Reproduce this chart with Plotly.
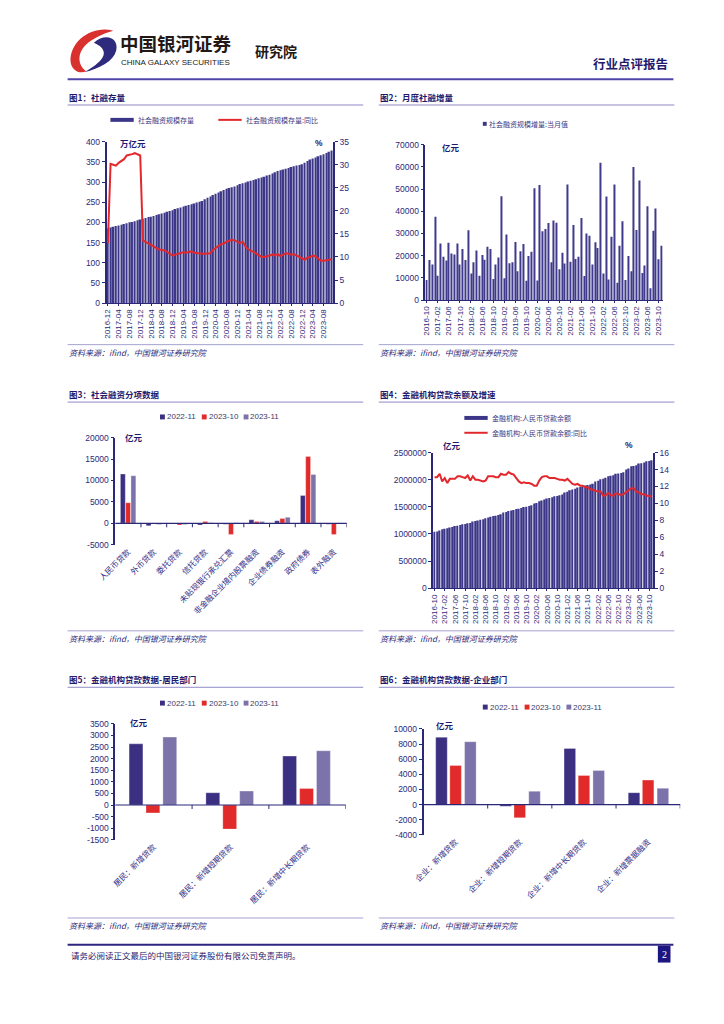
import plotly.graph_objects as go
import pandas as pd

W, H = 724, 1024


def fx(x):
    return x / W


def fy(y):
    return 1 - y / H


NAVY = "#2b2878"
TXT = "#2d2a7a"
BAR = "#3c3688"
RED = "#e2282c"
C1, C2, C3 = "#3a2f80", "#e12b2b", "#7b73aa"
CJK = "Noto Sans CJK SC"
NUM = "Liberation Sans"

# ---------------- data ----------------
# Fig 1: social financing stock (万亿元) and yoy (%), 2016-12 .. 2023-11
months1 = list(pd.period_range("2016-12", "2023-11", freq="M").strftime("%Y-%m"))
sf_stock = [185, 187, 189, 191, 192, 194, 196, 198, 200, 201, 203, 205,
            207, 209, 211, 213, 214, 216, 218, 220, 222, 224, 226, 228,
            230, 233, 235, 237, 239, 241, 243, 245, 247, 249, 251, 253,
            257, 261, 264, 268, 271, 274, 277, 280, 283, 285, 287, 289,
            292, 295, 297, 299, 301, 303, 305, 307, 309, 311, 313, 316,
            318, 321, 324, 327, 329, 331, 333, 335, 337, 339, 341, 342,
            344, 348, 352, 356, 358, 361, 364, 366, 369, 372, 375, 378]
sf_yoy = [13.0,
          30.2, 30.0, 29.8, 30.4, 30.8, 31.2, 32.0, 32.1, 32.3, 32.5, 32.3, 32.0,
          13.6, 13.3, 12.9, 12.6, 12.3, 11.9, 11.6, 11.5, 11.4, 11.1, 10.7, 10.3,
          10.5, 10.7, 10.9, 11.0, 10.9, 11.1, 11.2, 10.9, 10.8, 10.7, 10.7, 10.7,
          10.7, 10.8, 11.5, 12.0, 12.5, 12.8, 12.9, 13.3, 13.5, 13.7, 13.6, 13.3,
          13.0, 13.3, 12.3, 11.7, 11.3, 11.1, 10.7, 10.3, 10.0, 10.0, 10.1, 10.3,
          10.5, 10.4, 10.6, 10.2, 10.5, 10.8, 10.7, 10.5, 10.6, 10.3, 10.0, 9.6,
          9.4, 9.9, 10.0, 10.3, 10.1, 9.6, 9.2, 9.2, 9.3, 9.3, 9.5, 9.8]
ticks1 = months1[::4]

# Fig 2: monthly social financing increment (亿元), 2016-10 .. 2023-11
months2 = list(pd.period_range("2016-10", "2023-11", freq="M").strftime("%Y-%m"))
sf_flow = [9000, 18000, 16000,
           37500, 11000, 25500, 19500, 17800, 25800, 21000, 20500, 25500, 16000, 23000, 18000,
           31500, 12000, 17000, 22300, 11000, 20300, 18200, 24000, 23000, 9500, 16000, 19200,
           46800, 9800, 29500, 16600, 17000, 26200, 13000, 22000, 25300, 8700, 19800, 21800,
           50400, 8800, 51800, 31000, 32000, 34700, 17000, 35800, 34800, 13900, 21300, 16500,
           52000, 17300, 33800, 18500, 19500, 37000, 10800, 30000, 29000, 16000, 26000, 23500,
           61800, 12000, 46600, 9300, 28500, 52000, 7800, 24500, 35500, 9000, 19800, 13000,
           59900, 31600, 53800, 12200, 15600, 42200, 5300, 31200, 41200, 18400, 24500]
ticks2 = months2[::4]

# Fig 3: social financing components (亿元)
cats3 = ["人民币贷款", "外币贷款", "委托贷款", "信托贷款", "未贴现银行承兑汇票",
         "非金融企业境内股票融资", "企业债券融资", "政府债券", "表外融资"]
s3_2211 = [11500, -600, -100, -400, -200, 800, 600, 6500, -200]
s3_2310 = [4800, -100, -400, 400, -2600, 400, 1100, 15600, -2600]
s3_2311 = [11100, -300, -300, 100, 100, 400, 1400, 11400, 0]
yt3 = [-5000, 0, 5000, 10000, 15000, 20000]

# Fig 4: RMB loan balance (亿元) and yoy (%), 2016-10 .. 2023-11
loan_bal = [1040000, 1048000, 1066000,
            1086000, 1097000, 1108000, 1119000, 1130000, 1145000, 1154000, 1166000, 1179000, 1185000, 1197000, 1201000,
            1230000, 1238000, 1250000, 1261000, 1273000, 1291000, 1304000, 1317000, 1331000, 1338000, 1350000, 1363000,
            1396000, 1405000, 1422000, 1432000, 1444000, 1461000, 1467000, 1479000, 1496000, 1502000, 1516000, 1531000,
            1564000, 1573000, 1602000, 1619000, 1634000, 1652000, 1662000, 1676000, 1695000, 1702000, 1716000, 1727000,
            1763000, 1777000, 1804000, 1819000, 1834000, 1855000, 1864000, 1876000, 1893000, 1901000, 1914000, 1927000,
            1967000, 1979000, 2010000, 2017000, 2036000, 2064000, 2071000, 2083000, 2108000, 2114000, 2126000, 2140000,
            2190000, 2208000, 2247000, 2254000, 2268000, 2299000, 2302000, 2316000, 2339000, 2346000, 2357000]
loan_yoy = [13.1, 13.1, 13.5,
            12.6, 13.0, 12.4, 12.9, 12.9, 12.9, 13.2, 13.2, 13.1, 13.0, 13.3, 12.7,
            13.2, 12.8, 12.8, 12.7, 12.6, 12.7, 13.2, 13.2, 13.2, 13.1, 13.1, 13.5,
            13.4, 13.4, 13.7, 13.5, 13.4, 13.0, 12.6, 12.4, 12.5, 12.4, 12.4, 12.3,
            12.1, 12.1, 12.7, 13.1, 13.2, 13.2, 13.0, 13.0, 13.0, 12.9, 12.8, 12.8,
            12.7, 12.9, 12.6, 12.3, 12.2, 12.3, 12.1, 12.1, 11.9, 11.9, 11.7, 11.6,
            11.5, 11.4, 11.4, 10.9, 11.0, 11.2, 11.0, 10.9, 11.2, 11.1, 11.0, 11.1,
            11.3, 11.6, 11.8, 11.8, 11.4, 11.3, 11.1, 11.1, 10.9, 10.9, 10.8]

# Fig 5: household loans (亿元)
cats5 = ["居民：新增贷款", "居民：新增短期贷款", "居民：新增中长期贷款"]
s5_2211 = [2640, 530, 2110]
s5_2310 = [-340, -1040, 710]
s5_2311 = [2930, 600, 2340]
yt5 = [-1500, -1000, -500, 0, 500, 1000, 1500, 2000, 2500, 3000, 3500]

# Fig 6: corporate loans (亿元)
cats6 = ["企业：新增贷款", "企业：新增短期贷款", "企业：新增中长期贷款", "企业：新增票据融资"]
s6_2211 = [8900, -220, 7420, 1570]
s6_2310 = [5150, -1750, 3840, 3230]
s6_2311 = [8300, 1750, 4500, 2140]
yt6 = [-4000, -2000, 0, 2000, 4000, 6000, 8000, 10000]

series_names = ["2022-11", "2023-10", "2023-11"]

# ---------------- figure ----------------
fig = go.Figure()

# Fig1
fig.add_bar(x=months1, y=sf_stock, marker=dict(color=BAR, line=dict(width=0)),
            width=0.6, xaxis="x", yaxis="y", showlegend=False)
fig.add_scatter(x=months1, y=sf_yoy, mode="lines", line=dict(color=RED, width=2),
                xaxis="x", yaxis="y7", showlegend=False)
# Fig2
fig.add_bar(x=months2, y=sf_flow, marker=dict(color="#403a8c", line=dict(width=0)),
            width=0.38, xaxis="x2", yaxis="y2", showlegend=False)
# Fig4
fig.add_bar(x=months2, y=loan_bal, marker=dict(color=BAR, line=dict(width=0)),
            width=0.6, xaxis="x4", yaxis="y4", showlegend=False)
fig.add_scatter(x=months2, y=loan_yoy, mode="lines", line=dict(color=RED, width=2),
                xaxis="x4", yaxis="y8", showlegend=False)


def grouped(cats, vals, xa, ya, width, offsets):
    for v, c, off in zip(vals, [C1, C2, C3], offsets):
        fig.add_bar(x=cats, y=v, marker=dict(color=c, line=dict(color="rgba(255,255,255,0.5)", width=0.6)),
                    width=width, offset=off, xaxis=xa, yaxis=ya, showlegend=False)


grouped(cats3, [s3_2211, s3_2310, s3_2311], "x3", "y3", 0.19, [-0.3, -0.095, 0.11])
grouped(cats5, [s5_2211, s5_2310, s5_2311], "x5", "y5", 0.18, [-0.32, -0.1, 0.12])
grouped(cats6, [s6_2211, s6_2310, s6_2311], "x6", "y6", 0.18, [-0.31, -0.09, 0.14])

tf = dict(family=NUM, size=8.5, color=TXT)
tf_small = dict(family=NUM, size=8, color=TXT)
cat_font = dict(family=CJK, size=8, color="#2f2c86")


def yax(dom, rng, dtick=None, side="left", overlay=None, anchor=None, tickvals=None, ticktext=None, fmt="d"):
    d = dict(domain=[fy(dom[1]), fy(dom[0])], range=rng, showline=True, linecolor=NAVY, linewidth=1.5,
             ticks="outside", ticklen=3, tickcolor=NAVY, showgrid=False, zeroline=False,
             tickfont=tf, side=side, fixedrange=True, tickformat=fmt)
    if dtick is not None:
        d["dtick"] = dtick
    if overlay:
        d["overlaying"] = overlay
        d.pop("domain")
    if anchor:
        d["anchor"] = anchor
    if tickvals is not None:
        d["tickvals"] = tickvals
        d["ticktext"] = ticktext
    return d


def xdate(dom, n, tv, anchor):
    return dict(domain=[fx(dom[0]), fx(dom[1])], type="category", range=[-0.5, n - 0.5],
                tickvals=tv, ticktext=tv, tickangle=-90, tickfont=tf_small, showline=True,
                linecolor=NAVY, linewidth=1.2, ticks="outside", ticklen=2, tickcolor=NAVY,
                showgrid=False, anchor=anchor, fixedrange=True)


def xcat(dom, n, anchor):
    return dict(domain=[fx(dom[0]), fx(dom[1])], type="category", range=[-0.5, n - 0.5],
                tickangle=-45, tickfont=cat_font, showline=False, ticks="", showgrid=False,
                anchor=anchor, fixedrange=True)


fig.update_layout(
    width=W, height=H, autosize=False, margin=dict(l=0, r=0, t=0, b=0),
    paper_bgcolor="white", plot_bgcolor="white", barmode="overlay", showlegend=False,
    xaxis=xdate((90, 323), len(months1), ticks1, "y"),
    yaxis=yax((138, 301), [0, 400], 50, anchor="x"),
    yaxis7=yax((138, 301), [0, 35], 5, side="right", overlay="y", anchor="x"),
    xaxis2=xdate((418, 662), len(months2), ticks2, "y2"),
    yaxis2=yax((141, 298), [0, 70000], 10000, anchor="x2"),
    xaxis3=xcat((99, 337), len(cats3), "y3"),
    yaxis3=yax((437, 545), [-5000, 20000], anchor="x3", tickvals=yt3, ticktext=[str(v) for v in yt3]),
    xaxis4=xdate((426, 652), len(months2), ticks2, "y4"),
    yaxis4=yax((452, 589), [0, 2500000], 500000, anchor="x4"),
    yaxis8=yax((452, 589), [0, 16], 2, side="right", overlay="y4", anchor="x4"),
    xaxis5=xcat((99, 336), len(cats5), "y5"),
    yaxis5=yax((726, 843), [-1500, 3500], anchor="x5", tickvals=yt5, ticktext=[str(v) for v in yt5]),
    xaxis6=xcat((416, 680), len(cats6), "y6"),
    yaxis6=yax((731, 838), [-4000, 10000], anchor="x6", tickvals=yt6, ticktext=[str(v) for v in yt6]),
)

shapes = []
ann = []


def hline(x0, x1, y, color, w):
    shapes.append(dict(type="line", xref="paper", yref="paper", x0=fx(x0), x1=fx(x1), y0=fy(y), y1=fy(y),
                       line=dict(color=color, width=w)))


def rect(x0, y0, x1, y1, color):
    shapes.append(dict(type="rect", xref="paper", yref="paper", x0=fx(x0), x1=fx(x1), y0=fy(y1), y1=fy(y0),
                       fillcolor=color, line=dict(width=0)))


def text(x, y, s, size=8, color=TXT, family=CJK, xanchor="left", bold=False, italic=False):
    ann.append(dict(x=fx(x), y=fy(y), xref="paper", yref="paper", text=("<b>%s</b>" % s) if bold else s,
                    showarrow=False, xanchor=xanchor, yanchor="middle", borderpad=0,
                    font=dict(size=size, color=color, family=family, style="italic" if italic else "normal")))


def path(points, color):
    p = "M %f %f " % (fx(points[0][0]), fy(points[0][1]))
    for i in range(1, len(points) - 2, 3):
        (a, b), (c, d), (e, f) = points[i], points[i + 1], points[i + 2]
        p += "C %f %f, %f %f, %f %f " % (fx(a), fy(b), fx(c), fy(d), fx(e), fy(f))
    p += "Z"
    shapes.append(dict(type="path", xref="paper", yref="paper", path=p, fillcolor=color, line=dict(width=0)))


# ---- header ----
path([(97, 26), (76, 20), (52, 36), (53, 57), (54, 66), (62, 70), (69, 67),
      (60, 61), (60, 49), (68, 41), (75, 34), (86, 29), (97, 26)], "#d9312e")
path([(77, 38), (88, 28), (103, 32), (100, 46), (97, 57), (83, 64), (67, 68),
      (78, 62), (89, 54), (87, 47), (86, 42), (81, 40), (77, 38)], "#2e2a7e")
text(103, 38, "中国银河证券", size=18.5, color="#231815", bold=True)
text(104, 58.5, "CHINA GALAXY SECURITIES", size=8, color="#231815", family=NUM)
text(242, 46, "研究院", size=14, color="#231815", bold=True)
text(668, 59, "行业点评报告", size=12.5, color="#1f1a6e", xanchor="right", bold=True)
hline(50, 673, 75, "#4f44a8", 2)

# ---- section titles / separators / sources ----
for (x0, x1, ty, s) in [(50, 354, 93, "图1：社融存量"), (370, 674, 93, "图2：月度社融增量"),
                         (50, 354, 393, "图3：社会融资分项数据"), (370, 674, 393, "图4：金融机构贷款余额及增速"),
                         (50, 354, 681, "图5：金融机构贷款数据-居民部门"), (370, 674, 681, "图6：金融机构贷款数据-企业部门")]:
    text(x0, ty, s, size=8.5, color="#1f1a6e", bold=True)
    hline(x0, x1, ty + 8, "#8e89c6", 1)

for (x0, x1, ly) in [(50, 354, 343), (370, 674, 343), (50, 354, 632), (370, 674, 632), (50, 354, 922), (370, 674, 922)]:
    hline(x0, x1, ly, "#a6a2d0", 1)
    text(x0, ly + 8, "资料来源：ifind，中国银河证券研究院", size=8, color=TXT, italic=True)

# ---- legends ----
LEGC = "#3d3a80"
rect(94, 114, 118, 118, BAR)
text(121, 116, "社会融资规模存量", size=7, color=LEGC)
hline(205, 229, 116, RED, 2)
text(232, 116, "社会融资规模存量:同比", size=7, color=LEGC)
rect(477, 118, 481, 122, BAR)
text(482, 120, "社会融资规模增量:当月值", size=7, color=LEGC)
rect(458, 415, 482, 419, BAR)
text(485, 417, "金融机构:人民币贷款余额", size=7, color=LEGC)
hline(458, 482, 432, RED, 2)
text(485, 432, "金融机构:人民币贷款余额:同比", size=7, color=LEGC)
for (x0, ly) in [(145, 416), (145, 705), (477, 709)]:
    for k, (c, nm) in enumerate(zip([C1, C2, C3], series_names)):
        xs = x0 + k * 43
        rect(xs, ly - 2.5, xs + 5, ly + 2.5, c)
        text(xs + 6, ly, nm, size=8, color="#3b3b6b", family=NUM)

# ---- unit labels ----
text(103, 139, "万亿元", size=8.5, color="#1f1a6e", bold=True)
text(303, 139, "%", size=8.5, color="#1f1a6e", bold=True, family=NUM)
text(434, 143, "亿元", size=8.5, color="#1f1a6e", bold=True)
text(108, 436, "亿元", size=8.5, color="#1f1a6e", bold=True)
text(435, 444, "亿元", size=8.5, color="#1f1a6e", bold=True)
text(622, 444, "%", size=8.5, color="#1f1a6e", bold=True, family=NUM)
text(113, 724, "亿元", size=8.5, color="#1f1a6e", bold=True)
text(428, 727, "亿元", size=8.5, color="#1f1a6e", bold=True)

# ---- zero lines & category ticks for grouped charts ----
for xa, ya, n in [("x3", "y3", len(cats3)), ("x5", "y5", len(cats5)), ("x6", "y6", len(cats6))]:
    shapes.append(dict(type="line", xref=xa + " domain", yref=ya, x0=0, x1=1, y0=0, y1=0,
                       line=dict(color=NAVY, width=1.2)))
    for i in range(1, n + 1):
        shapes.append(dict(type="line", xref=xa, yref=ya, x0=i - 0.5, x1=i - 0.5, ysizemode="pixel",
                           yanchor=0, y0=0, y1=-4, line=dict(color=NAVY, width=1)))

# ---- footer ----
hline(50, 673, 949, "#2d2580", 2)
text(52, 959, "请务必阅读正文最后的中国银河证券股份有限公司免责声明。", size=8.5, color="#1f1a6e")
rect(657, 950, 670, 967, "#1e1680")
text(663.5, 958.5, "2", size=10, color="white", family="Liberation Serif", xanchor="center")

fig.update_layout(shapes=shapes, annotations=ann)
fig.write_html("out.html", config={"displayModeBar": False},
               post_script="document.body.style.margin='0';")
